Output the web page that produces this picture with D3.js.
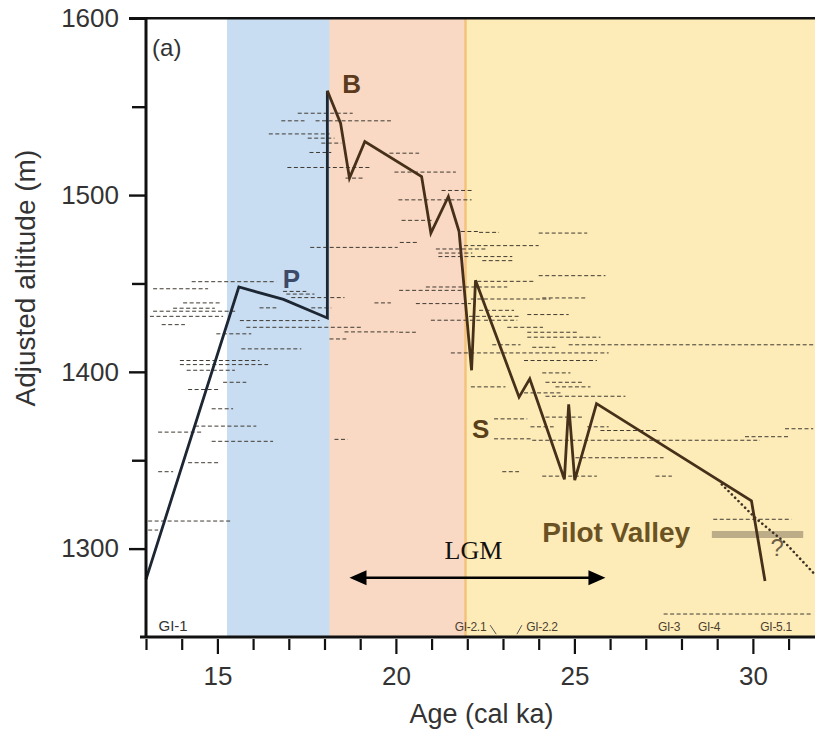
<!DOCTYPE html>
<html><head><meta charset="utf-8">
<script src="https://cdn.jsdelivr.net/npm/d3@7"></script>
<style>
body{margin:0;background:#fff;}
svg{display:block;font-family:"Liberation Sans",Arial,Helvetica,sans-serif;}
</style>
</head><body>
<svg id="chart" width="815" height="731"></svg>
<script>
// ---------- data ----------
const ageDomain = [13, 31.74];
const altDomain = [1250, 1600];
const xTicks = d3.range(13, 32);
const xLabels = [15, 20, 25, 30];
const yMajor = [1300, 1400, 1500, 1600];
const yMinor = [1350, 1450, 1550];

const bandNames = ["blue", "pink", "yellow"];
const bandFrom = [15.27, 18.14, 21.95];
const bandTo = [18.14, 21.95, 31.74];
const bandColors = ["#c9ddf2", "#f9d9c4", "#feecb8"];

// lake-level curve (age ka, altitude m)
const curveEarly = [[13.0,1282.6],[15.6,1448],[16.85,1441],[18.08,1430.5],[18.08,1559]];
const curveLate = [[18.08,1559],[18.45,1540.7],[18.70,1509.6],[19.13,1530.3],[20.72,1510.5],
  [20.98,1478.5],[21.47,1499.2],[21.77,1479.4],[22.12,1400.9],[22.23,1451.8],[23.45,1385.7],
  [23.75,1396],[24.72,1339.2],[24.84,1381.6],[25.01,1338.8],[25.62,1382],[29.96,1327],[30.34,1281.7]];
const curveDotted = [[29.13,1336.3],[30.06,1317.5],[30.90,1303.4],[31.69,1286.4]];

// dated samples: [age from, age to, altitude]
const samples = [
 [14.28,16.65,1451],[13.20,14.74,1447],[16.84,17.49,1445.5],[16.93,17.72,1444],[17.07,18.56,1442],
 [19.40,19.86,1439],[14.04,15.07,1439],[13.76,14.93,1436],[13.20,15.53,1434.3],[13.11,15.16,1431.4],
 [16.18,16.65,1436.2],[17.63,18.19,1436.2],[13.44,14.09,1426.7],[15.63,17.86,1429],[15.81,19.03,1425.2],
 [18.56,20.05,1422.6],[14.97,15.95,1421.5],[18.14,18.61,1418.6],[15.67,17.35,1413],[13.95,16.18,1406.4],
 [13.95,16.42,1404.1],[14.14,15.49,1400.9],[15.16,15.81,1394.1],[14.18,15.02,1390],[14.84,15.44,1379.1],
 [14.37,16.09,1369.3],[13.34,14.56,1365.9],[14.84,16.56,1360.7],[18.28,18.65,1361.8],[14.18,15.02,1348.6],
 [13.34,13.76,1343.5],[13.06,15.42,1315.6],[13.06,13.34,1310.5],
 [17.25,18.79,1546.3],[16.79,17.44,1542],[17.75,19.86,1542],[16.44,18.14,1534.6],[17.53,18.28,1532.2],
 [17.91,18.47,1529.4],[17.58,18.19,1524.1],[16.96,19.32,1515.6],[18.59,19.09,1509.6],[19.82,20.65,1523.7],
 [19.96,21.68,1513],[21.28,22.12,1502.6],[20.07,22.12,1497.3],[20.16,21.03,1485.7],[21.82,22.33,1479.4],
 [22.33,22.89,1478.9],[20.11,20.61,1473.2],[17.60,20.05,1470.4],[21.12,22.52,1469.5],[21.19,22.14,1467.2],
 [21.19,23.26,1465.2],[20.09,20.56,1422.4],
 [24.0,25.36,1478.5],[21.91,24.0,1471.4],[22.42,23.26,1462.9],[24.0,25.87,1454.4],[22.28,23.89,1451.2],
 [20.84,23.12,1448],[20.09,21.86,1446.1],[22.10,24.33,1441.2],[24.10,25.31,1441.8],[20.56,22.10,1438.6],
 [22.33,23.31,1434.8],[22.05,23.49,1431.4],[23.68,24.84,1432.4],[20.98,22.38,1429.2],[22.47,23.40,1429.2],
 [23.12,24.12,1425.2],[23.68,25.12,1422.4],[23.68,25.73,1419.6],[22.70,23.49,1415.3],[23.82,24.47,1413.9],
 [24.84,31.69,1415.3],[21.54,25.96,1410.7],[23.59,25.63,1406.4],[24.10,24.89,1399.4],[24.19,25.21,1394.1],
 [24.47,25.45,1391.5],[22.10,23.07,1391.5],[23.59,24.61,1388.1],[24.19,26.43,1386.2],[22.75,23.68,1373.4],
 [24.19,25.21,1374.4],[23.77,24.42,1368.9],[25.36,25.96,1368.9],[25.73,27.36,1366.8],[22.75,23.82,1362.1],
 [23.82,30.20,1361.3],[29.78,30.99,1363.3],[30.90,31.69,1367.8],[25.03,27.50,1351.4],[22.98,23.45,1343.5],
 [24.10,25.63,1341],[27.27,27.73,1341],[28.89,31.08,1316.6],[27.50,31.69,1263]
];

const pilotValleyBar = [28.85, 31.41, 1308];
const lgmArrow = [18.70, 25.87, 1283.5];

const giNames = ["GI-1","GI-2.1","GI-2.2","GI-3","GI-4","GI-5.1"];
const giAges = [13.76, 22.09, 24.09, 27.65, 28.77, 30.65];
const giLeaders = [[[22.64,1256.7],[22.81,1251.6]],[[23.39,1251.6],[23.53,1256.7]]];

const phaseNames = ["B","P","S"];
const phasePos = [[18.50,1557.8],[16.83,1447.6],[22.13,1362.8]];
const phaseColors = ["#5b3b1c","#3b4b68","#5a4019"];

// ---------- drawing ----------
const svg = d3.select("#chart");
const x = d3.scaleLinear().domain(ageDomain).range([146, 815]);
const y = d3.scaleLinear().domain(altDomain).range([637, 18.3]);

// bands
svg.append("g").selectAll("rect").data(bandNames).join("rect")
  .attr("x", (d,i) => x(bandFrom[i]))
  .attr("width", (d,i) => x(bandTo[i]) - x(bandFrom[i]) + 2)
  .attr("y", y(1600)).attr("height", y(1250) - y(1600))
  .attr("fill", (d,i) => bandColors[i]);
svg.append("line").attr("x1", x(bandFrom[2])).attr("x2", x(bandFrom[2]))
  .attr("y1", y(1600)).attr("y2", y(1250)).attr("stroke", "#f5c27c").attr("stroke-width", 2.5);

// sample dashes
svg.append("g").selectAll("line").data(samples).join("line")
  .attr("x1", d => x(d[0])).attr("x2", d => x(d[1]))
  .attr("y1", d => y(d[2])).attr("y2", d => y(d[2]))
  .attr("stroke", "#3f3a32").attr("stroke-width", 1).attr("stroke-dasharray", "4,2.5");

// pilot valley bar
svg.append("line").attr("x1", x(pilotValleyBar[0])).attr("x2", x(pilotValleyBar[1]))
  .attr("y1", y(pilotValleyBar[2])).attr("y2", y(pilotValleyBar[2]))
  .attr("stroke", "#bcad88").attr("stroke-width", 7);

// curves
const lineGen = d3.line().x(d => x(d[0])).y(d => y(d[1]));
svg.append("path").attr("d", lineGen(curveDotted)).attr("fill", "none")
  .attr("stroke", "#3d3325").attr("stroke-width", 2.6).attr("stroke-linecap", "round")
  .attr("stroke-dasharray", "0.1,4.6");
svg.append("path").attr("d", lineGen(curveEarly)).attr("fill", "none")
  .attr("stroke", "#1d2633").attr("stroke-width", 2.8);
svg.append("path").attr("d", lineGen(curveLate)).attr("fill", "none")
  .attr("stroke", "#47301a").attr("stroke-width", 2.8);

// LGM arrow
const ay = y(lgmArrow[2]), ax1 = x(lgmArrow[0]), ax2 = x(lgmArrow[1]);
svg.append("line").attr("x1", ax1 + 8).attr("x2", ax2 - 8).attr("y1", ay).attr("y2", ay)
  .attr("stroke", "#000").attr("stroke-width", 2.6);
svg.append("path").attr("d", `M${ax1},${ay} L${ax1+17},${ay-7.5} L${ax1+17},${ay+7.5} Z`).attr("fill", "#000");
svg.append("path").attr("d", `M${ax2},${ay} L${ax2-17},${ay-7.5} L${ax2-17},${ay+7.5} Z`).attr("fill", "#000");
svg.append("text").attr("x", (ax1 + ax2) / 2 - 4).attr("y", y(1294))
  .attr("text-anchor", "middle").attr("font-family", "'Liberation Serif','Times New Roman',serif")
  .attr("font-size", 26).attr("fill", "#111").text("LGM");

// phase labels
svg.append("g").selectAll("text").data(phaseNames).join("text")
  .attr("x", (d,i) => x(phasePos[i][0])).attr("y", (d,i) => y(phasePos[i][1]))
  .attr("font-size", 26).attr("font-weight", "bold")
  .attr("fill", (d,i) => phaseColors[i]).text(d => d);

svg.append("text").attr("x", x(24.10)).attr("y", y(1303.6))
  .attr("font-size", 28).attr("font-weight", "bold").attr("fill", "#6b5222").text("Pilot Valley");
svg.append("text").attr("x", x(30.49)).attr("y", y(1295.7))
  .attr("font-size", 24).attr("fill", "#6f6048").text("?");
svg.append("text").attr("x", x(13.17)).attr("y", y(1578.5))
  .attr("font-size", 24).attr("fill", "#333").text("(a)");

// GI labels
svg.append("g").selectAll("text").data(giNames).join("text")
  .attr("x", (d,i) => x(giAges[i])).attr("y", y(1253.3))
  .attr("text-anchor", "middle")
  .attr("font-size", (d,i) => i === 0 ? 15 : 12)
  .attr("letter-spacing", (d,i) => i === 0 ? 0 : -0.3)
  .attr("fill", (d,i) => i === 0 ? "#333" : "#4b4030").text(d => d);
svg.append("g").selectAll("path").data(giLeaders).join("path")
  .attr("d", d => lineGen(d)).attr("stroke", "#555").attr("stroke-width", 1).attr("fill", "none");

// axes
const xAxis = d3.axisBottom(x).tickValues(xTicks).tickSize(12)
  .tickFormat(d => xLabels.includes(d) ? d : "");
const gx = svg.append("g").attr("transform", `translate(0,${y(1250)})`).call(xAxis);
gx.select(".domain").remove();
gx.selectAll(".tick line").attr("stroke", "#111").attr("stroke-width", 2.2)
  .attr("y1", 2).attr("y2", d => xLabels.includes(d) ? 17 : 13);
gx.selectAll(".tick text").attr("font-size", 26).attr("fill", "#333")
  .attr("font-family", "'Liberation Sans',Arial,sans-serif").attr("dy", 0).attr("y", 48);

const yAxis = d3.axisLeft(y).tickValues([...yMajor, ...yMinor]).tickSize(16).tickPadding(11)
  .tickFormat(d => yMajor.includes(d) ? d : "");
const gy = svg.append("g").attr("transform", `translate(146,0)`).call(yAxis);
gy.select(".domain").remove();
gy.selectAll(".tick line").attr("stroke", "#111").attr("stroke-width", 2.4)
  .attr("x2", d => yMajor.includes(d) ? -17 : -14);
gy.selectAll(".tick text").attr("font-size", 26).attr("fill", "#333")
  .attr("font-family", "'Liberation Sans',Arial,sans-serif");

// frame lines
svg.append("line").attr("x1", 129).attr("x2", 815).attr("y1", y(1600)).attr("y2", y(1600))
  .attr("stroke", "#111").attr("stroke-width", 2.4);
svg.append("line").attr("x1", 146).attr("x2", 146).attr("y1", y(1600) - 1).attr("y2", y(1250) + 1)
  .attr("stroke", "#111").attr("stroke-width", 3);
svg.append("line").attr("x1", 140).attr("x2", 815).attr("y1", y(1250)).attr("y2", y(1250))
  .attr("stroke", "#111").attr("stroke-width", 3);

// axis titles
svg.append("text").attr("x", x(22.4)).attr("y", 723).attr("text-anchor", "middle")
  .attr("font-size", 27).attr("fill", "#333").text("Age (cal ka)");
svg.append("text").attr("transform", `translate(35,${y(1453)}) rotate(-90)`)
  .attr("text-anchor", "middle").attr("font-size", 28).attr("fill", "#333")
  .text("Adjusted altitude (m)");
</script>
</body></html>
